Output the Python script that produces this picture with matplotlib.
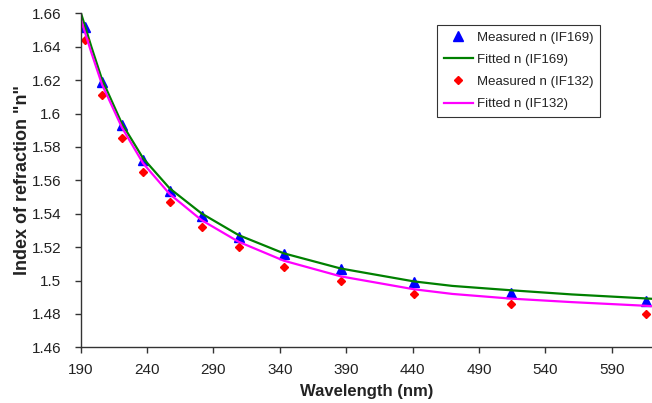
import numpy as np
import matplotlib
matplotlib.use('Agg')
import matplotlib.pyplot as plt
from matplotlib.ticker import FuncFormatter

plt.rcParams['font.family'] = ['Liberation Sans', 'DejaVu Sans']

wl_meas = [193, 206, 221, 237, 257, 281, 309, 343, 386, 441, 514, 616]
n_if169 = [1.652, 1.619, 1.593, 1.572, 1.5536, 1.5386, 1.5262, 1.5159, 1.5067, 1.4993, 1.4927, 1.4875]
n_if132 = [1.644, 1.611, 1.5856, 1.5647, 1.5472, 1.5322, 1.5199, 1.5079, 1.4999, 1.4917, 1.4858, 1.4799]

# Fitted curves
wl_fit = [190, 198, 206, 221, 237, 257, 281, 309, 343, 386, 441, 470, 514, 560, 616, 620]
fit_if169 = [1.6606, 1.640, 1.6205, 1.594, 1.5732, 1.5552, 1.5402, 1.5272, 1.5163, 1.5072,
             1.4995, 1.4968, 1.4942, 1.4917, 1.4893, 1.4891]
fit_if132 = [1.6566, 1.6365, 1.6175, 1.5917, 1.5702, 1.5518, 1.5362, 1.5232, 1.5119, 1.5025,
             1.4948, 1.4920, 1.4892, 1.4871, 1.4849, 1.4847]

xticks = np.arange(190, 600, 50)
yticks = np.arange(1.46, 1.6601, 0.02)

fig = plt.figure(figsize=(6.52, 4.03), dpi=100)
ax = fig.add_axes([0.1238, 0.138, 0.8762, 0.829])

ax.plot(wl_meas, n_if169, linestyle='none', marker='^', markersize=7,
        color='#0000ff', label='Measured n (IF169)')
ax.plot(wl_fit, fit_if169, color='#008000', linewidth=1.6, label='Fitted n (IF169)')
ax.plot(wl_meas, n_if132, linestyle='none', marker='D', markersize=4.5,
        color='#ff0000', label='Measured n (IF132)')
ax.plot(wl_fit, fit_if132, color='#ff00ff', linewidth=1.6, label='Fitted n (IF132)')

ax.set_xlim(190, 620.4)
ax.set_ylim(1.46, 1.66)
ax.set_xticks(xticks)
ax.set_yticks(yticks)
ax.yaxis.set_major_formatter(FuncFormatter(lambda v, p: '{:g}'.format(round(v, 2))))

for s in ['top', 'right']:
    ax.spines[s].set_visible(False)
for s in ['left', 'bottom']:
    ax.spines[s].set_color('#333333')
    ax.spines[s].set_linewidth(1.0)

ax.tick_params(direction='out', length=4, width=1, color='#333333',
               labelsize=11, labelcolor='#222222')
ax.tick_params(axis='x', pad=7)
ax.tick_params(axis='y', pad=10)

ax.set_xlabel('Wavelength (nm)', fontsize=12, fontweight='bold', color='#222222', labelpad=5)
ax.set_ylabel('Index of refraction "n"', fontsize=13, fontweight='bold', color='#222222')
ax.yaxis.set_label_coords(-0.087, 0.502)

leg = ax.legend(loc='upper right', bbox_to_anchor=(0.909, 0.965), borderaxespad=0,
                fontsize=9.5, frameon=True, fancybox=False, edgecolor='black',
                handlelength=2.2, borderpad=0.5, labelspacing=0.75, handletextpad=0.3)
leg.get_frame().set_linewidth(0.8)
for t in leg.get_texts():
    t.set_color('#222222')

fig.savefig('out.png', dpi=100)
